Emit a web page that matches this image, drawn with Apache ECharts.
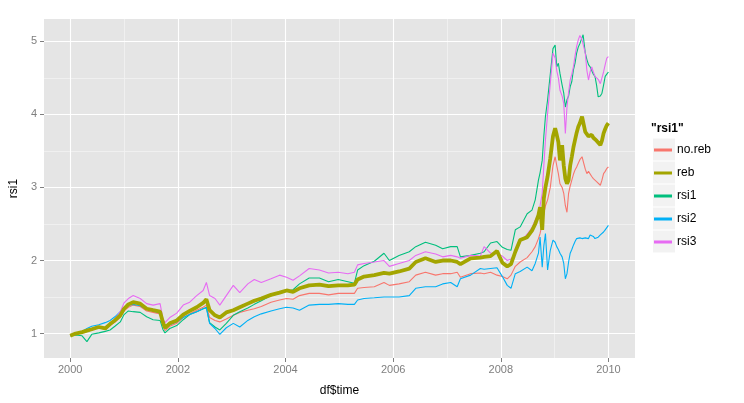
<!DOCTYPE html>
<html>
<head>
<meta charset="utf-8">
<script src="https://cdn.jsdelivr.net/npm/echarts@6/dist/echarts.min.js"></script>
<style>
html,body{margin:0;padding:0;background:#fff;}
#chart{width:744px;height:403px;}
</style>
</head>
<body>
<div id="chart"></div>
<script>
// time in decimal years
const time = [
  2000.00, 2000.10, 2000.22, 2000.31, 2000.40, 2000.53, 2000.65, 2000.74, 2000.83, 2000.93,
  2001.00, 2001.08, 2001.17, 2001.30, 2001.42, 2001.54, 2001.67, 2001.72, 2001.76, 2001.85, 2001.98,
  2002.10, 2002.22, 2002.35, 2002.47, 2002.53, 2002.59, 2002.69, 2002.78, 2002.90,
  2003.03, 2003.15, 2003.30, 2003.42, 2003.55, 2003.73, 2003.89,
  2004.02, 2004.14, 2004.26, 2004.44, 2004.63, 2004.80, 2004.98,
  2005.16, 2005.28, 2005.34, 2005.46, 2005.65, 2005.83, 2005.93,
  2006.11, 2006.30, 2006.42, 2006.60, 2006.79, 2006.92,
  2007.07, 2007.19, 2007.25, 2007.44, 2007.62, 2007.69, 2007.81, 2007.93,
  2008.03, 2008.12, 2008.19, 2008.27, 2008.36, 2008.49, 2008.58, 2008.64,
  2008.70, 2008.73, 2008.77, 2008.80, 2008.83, 2008.87, 2008.92, 2008.97,
  2009.01, 2009.04, 2009.07, 2009.10, 2009.14, 2009.17, 2009.20, 2009.23, 2009.26, 2009.29,
  2009.32, 2009.35, 2009.38, 2009.41, 2009.44, 2009.47, 2009.51, 2009.53, 2009.57, 2009.60,
  2009.63, 2009.66, 2009.69, 2009.72, 2009.75, 2009.78, 2009.81, 2009.85, 2009.88, 2009.91,
  2009.94, 2009.97, 2010.00
];

const noReb = [
  0.97, 0.99, 1.01, 1.03, 1.05, 1.08, 1.06, 1.11, 1.16, 1.22,
  1.31, 1.36, 1.39, 1.37, 1.31, 1.29, 1.27, 1.12, 1.04, 1.10, 1.14,
  1.22, 1.27, 1.32, 1.36, 1.39, 1.22, 1.18, 1.16, 1.20,
  1.25, 1.29, 1.32, 1.34, 1.37, 1.43, 1.46,
  1.48, 1.47, 1.52, 1.55, 1.55, 1.53, 1.55,
  1.55, 1.55, 1.62, 1.63, 1.64, 1.70, 1.66,
  1.68, 1.71, 1.80, 1.84, 1.80, 1.82,
  1.82, 1.84, 1.77, 1.82, 1.83, 1.82, 1.84, 1.80,
  1.78, 1.75, 1.80, 1.92, 1.98, 2.04, 2.12, 2.19,
  2.30, 2.37, 2.50, 2.64, 2.75, 2.83, 3.00, 3.30,
  3.42, 3.30, 3.19, 3.05, 3.00, 2.92, 2.75, 2.66, 2.92, 3.02,
  3.10, 3.18, 3.24, 3.28, 3.33, 3.38, 3.42, 3.44, 3.25, 3.19,
  3.22, 3.24, 3.15, 3.12, 3.10, 3.08, 3.06, 3.03, 3.10, 3.19,
  3.22, 3.26, 3.28
];

const reb = [
  0.97, 1.00, 1.02, 1.04, 1.06, 1.09, 1.07, 1.13, 1.18, 1.25,
  1.34, 1.40, 1.43, 1.41, 1.34, 1.32, 1.30, 1.16, 1.08, 1.14, 1.18,
  1.26, 1.31, 1.36, 1.42, 1.47, 1.32, 1.25, 1.22, 1.29,
  1.32, 1.36, 1.41, 1.45, 1.48, 1.53, 1.56,
  1.59, 1.57, 1.62, 1.66, 1.67, 1.65, 1.66,
  1.66, 1.67, 1.74, 1.78, 1.80, 1.83, 1.82,
  1.85, 1.89, 1.98, 2.03, 1.98, 2.00,
  2.00, 1.98, 1.95, 2.03, 2.04, 2.05, 2.06, 2.13,
  1.97, 1.92, 1.95, 2.12, 2.28, 2.32, 2.41, 2.50,
  2.62, 2.73, 2.42, 2.85, 3.00, 3.15, 3.40, 3.70,
  3.81, 3.72, 3.62, 3.37, 3.58, 3.30, 3.12, 3.05, 3.10, 3.30,
  3.42, 3.55, 3.65, 3.75, 3.83, 3.88, 3.97, 3.95, 3.76, 3.74,
  3.70, 3.69, 3.72, 3.68, 3.66, 3.64, 3.62, 3.58, 3.64, 3.74,
  3.80, 3.85, 3.88
];

const rsi1 = [
  0.97, 0.98, 0.97, 0.89, 0.99, 1.01, 1.03, 1.05, 1.10, 1.16,
  1.26, 1.31, 1.30, 1.29, 1.23, 1.19, 1.18, 1.06, 1.01, 1.07, 1.11,
  1.19, 1.26, 1.30, 1.34, 1.36, 1.15, 1.09, 1.05, 1.14,
  1.25, 1.30, 1.35, 1.40, 1.45, 1.52, 1.55,
  1.58, 1.60, 1.68, 1.76, 1.76, 1.71, 1.74,
  1.71, 1.69, 1.87, 1.93, 1.99, 2.10, 2.00,
  2.07, 2.12, 2.19, 2.25, 2.21, 2.16,
  2.19, 2.19, 2.05, 2.07, 2.10, 2.12, 2.24, 2.26,
  2.18, 2.15, 2.14, 2.42, 2.46, 2.64, 2.69, 2.83,
  3.10, 3.20, 3.37, 3.70, 3.97, 4.20, 4.55, 4.90,
  4.95, 4.65, 4.70, 4.56, 4.40, 4.29, 4.10, 4.20, 4.25, 4.38,
  4.45, 4.61, 4.70, 4.84, 4.92, 4.97, 5.05, 5.09, 4.84, 4.75,
  4.68, 4.65, 4.60, 4.55, 4.52, 4.40, 4.24, 4.25, 4.29, 4.40,
  4.52, 4.55, 4.58
];

const rsi2 = [
  0.97, 1.00, 1.03, 1.07, 1.10, 1.12, 1.15, 1.18, 1.23, 1.30,
  1.35, 1.39, 1.40, 1.38, 1.33, 1.31, 1.28, 1.15, 1.07, 1.12, 1.16,
  1.22, 1.26, 1.30, 1.34, 1.35, 1.14, 1.07, 0.99, 1.08,
  1.14, 1.09, 1.18, 1.23, 1.27, 1.31, 1.34,
  1.36, 1.35, 1.32, 1.39, 1.40, 1.40, 1.41,
  1.40, 1.40, 1.46, 1.48, 1.49, 1.50, 1.50,
  1.50, 1.52, 1.62, 1.64, 1.64, 1.68,
  1.70, 1.64, 1.75, 1.80, 1.89, 1.88, 1.89, 1.90,
  1.78, 1.66, 1.62, 1.82, 1.85, 1.91, 1.86, 1.96,
  2.10, 2.32, 1.91, 2.20, 2.37, 1.87, 2.14, 2.28,
  2.25, 2.19, 2.15, 2.10, 2.05, 1.96, 1.75, 1.82, 1.98, 2.10,
  2.15, 2.21, 2.26, 2.30, 2.28, 2.31, 2.30, 2.29, 2.31, 2.32,
  2.30, 2.35, 2.37, 2.33, 2.30, 2.28, 2.32, 2.35, 2.37, 2.39,
  2.42, 2.45, 2.48
];

const rsi3 = [
  0.97, 0.99, 1.02, 1.04, 1.06, 1.09, 1.08, 1.14, 1.20, 1.30,
  1.42, 1.48, 1.52, 1.48, 1.41, 1.39, 1.41, 1.21, 1.15, 1.22, 1.28,
  1.39, 1.43, 1.52, 1.59, 1.70, 1.52, 1.48, 1.39, 1.52,
  1.66, 1.56, 1.68, 1.74, 1.70, 1.75, 1.80,
  1.77, 1.73, 1.79, 1.89, 1.87, 1.83, 1.84,
  1.82, 1.84, 1.94, 1.96, 1.98, 2.00, 1.92,
  1.96, 2.00, 2.07, 2.12, 2.09, 2.05,
  2.07, 2.05, 2.03, 2.07, 2.06, 2.19, 2.10, 2.10,
  2.06, 2.00, 2.02, 2.10, 2.25, 2.36, 2.45, 2.55,
  2.64, 2.75, 2.92, 3.30, 3.65, 4.01, 4.42, 4.84,
  4.77, 4.60, 4.50, 4.33, 4.25, 4.15, 3.74, 4.10, 4.30, 4.47,
  4.55, 4.65, 4.80, 4.93, 5.02, 5.08, 5.02, 5.00, 4.84, 4.60,
  4.47, 4.58, 4.65, 4.58, 4.52, 4.52, 4.48, 4.42, 4.50, 4.58,
  4.68, 4.77, 4.79
];

const seriesNames = ['no.reb', 'reb', 'rsi1', 'rsi2', 'rsi3'];
const seriesValues = [noReb, reb, rsi1, rsi2, rsi3];
const colors = ['#F8766D', '#A3A500', '#00BF7D', '#00B0F6', '#E76BF3'];

const xMajorTicks = [2000, 2002, 2004, 2006, 2008, 2010];
const xMinorTicks = [2001, 2003, 2005, 2007, 2009];
const yMajorTicks = [1, 2, 3, 4, 5];
const yMinorTicks = [1.5, 2.5, 3.5, 4.5];

const X_MIN = 1999.513, X_MAX = 2010.494;
const Y_MIN = 0.666, Y_MAX = 5.305;

const font = "'Liberation Sans', Arial, sans-serif";
const chart = echarts.init(document.getElementById('chart'), null, {renderer: 'canvas'});

const series = seriesNames.map((name, i) => ({
  name: name,
  type: 'line',
  xAxisIndex: 0,
  yAxisIndex: 0,
  data: time.map((t, k) => [t, seriesValues[i][k]]),
  showSymbol: false,
  symbol: 'none',
  smooth: false,
  z: name === 'reb' ? 4 : 3,
  lineStyle: {color: colors[i], width: name === 'reb' ? 3.8 : 1.1},
  itemStyle: {color: colors[i]},
  emphasis: {disabled: true}
}));

// key backgrounds for the legend
const keyBoxes = seriesNames.map((n, i) => ({
  type: 'rect',
  left: 653,
  top: 138.5 + i * 23,
  shape: {width: 22, height: 22},
  style: {fill: '#F2F2F2'},
  z: 0
}));

chart.setOption({
  animation: false,
  backgroundColor: '#ffffff',
  title: {
    text: '"rsi1"',
    left: 651,
    top: 123,
    padding: 0,
    textStyle: {fontFamily: font, fontSize: 12, fontWeight: 'bold', color: '#000'}
  },
  legend: {
    orient: 'vertical',
    left: 654,
    top: 138.5,
    padding: 0,
    itemWidth: 18,
    itemHeight: 3,
    itemGap: 0,
    icon: 'rect',
    selectedMode: false,
    data: seriesNames,
    textStyle: {fontFamily: font, fontSize: 12, color: '#000', lineHeight: 23}
  },
  graphic: keyBoxes,
  grid: {left: 42, right: 109, top: 19, bottom: 45, show: true, backgroundColor: '#E5E5E5', borderWidth: 0},
  xAxis: [
    {
      type: 'value', min: X_MIN, max: X_MAX, gridIndex: 0,
      name: 'df$time', nameLocation: 'middle', nameGap: 27,
      nameTextStyle: {fontFamily: font, fontSize: 12, color: '#000'},
      axisLine: {show: false},
      axisTick: {show: true, length: 4, lineStyle: {color: '#7F7F7F'}, customValues: xMajorTicks},
      axisLabel: {show: true, margin: 6, fontFamily: font, fontSize: 11, color: '#7F7F7F', customValues: xMajorTicks,
                  formatter: v => String(Math.round(v))},
      splitLine: {show: true, lineStyle: {color: '#FFFFFF', width: 1.1}},
      z: 2
    },
    {
      type: 'value', min: X_MIN, max: X_MAX, gridIndex: 0, position: 'bottom',
      axisLine: {show: false},
      axisTick: {show: false, customValues: xMinorTicks},
      axisLabel: {show: false, customValues: xMinorTicks},
      splitLine: {show: true, lineStyle: {color: '#F2F2F2', width: 0.8}},
      z: 1
    }
  ],
  yAxis: [
    {
      type: 'value', min: Y_MIN, max: Y_MAX, gridIndex: 0,
      name: 'rsi1', nameLocation: 'middle', nameGap: 22, nameRotate: 90,
      nameTextStyle: {fontFamily: font, fontSize: 12, color: '#000'},
      axisLine: {show: false},
      axisTick: {show: true, length: 4, lineStyle: {color: '#7F7F7F'}, customValues: yMajorTicks},
      axisLabel: {show: true, margin: 7, fontFamily: font, fontSize: 11, color: '#7F7F7F', customValues: yMajorTicks,
                  formatter: v => String(Math.round(v))},
      splitLine: {show: true, lineStyle: {color: '#FFFFFF', width: 1.1}},
      z: 2
    },
    {
      type: 'value', min: Y_MIN, max: Y_MAX, gridIndex: 0, position: 'left',
      axisLine: {show: false},
      axisTick: {show: false, customValues: yMinorTicks},
      axisLabel: {show: false, customValues: yMinorTicks},
      splitLine: {show: true, lineStyle: {color: '#F2F2F2', width: 0.8}},
      z: 1
    }
  ],
  series: series
});
</script>
</body>
</html>
